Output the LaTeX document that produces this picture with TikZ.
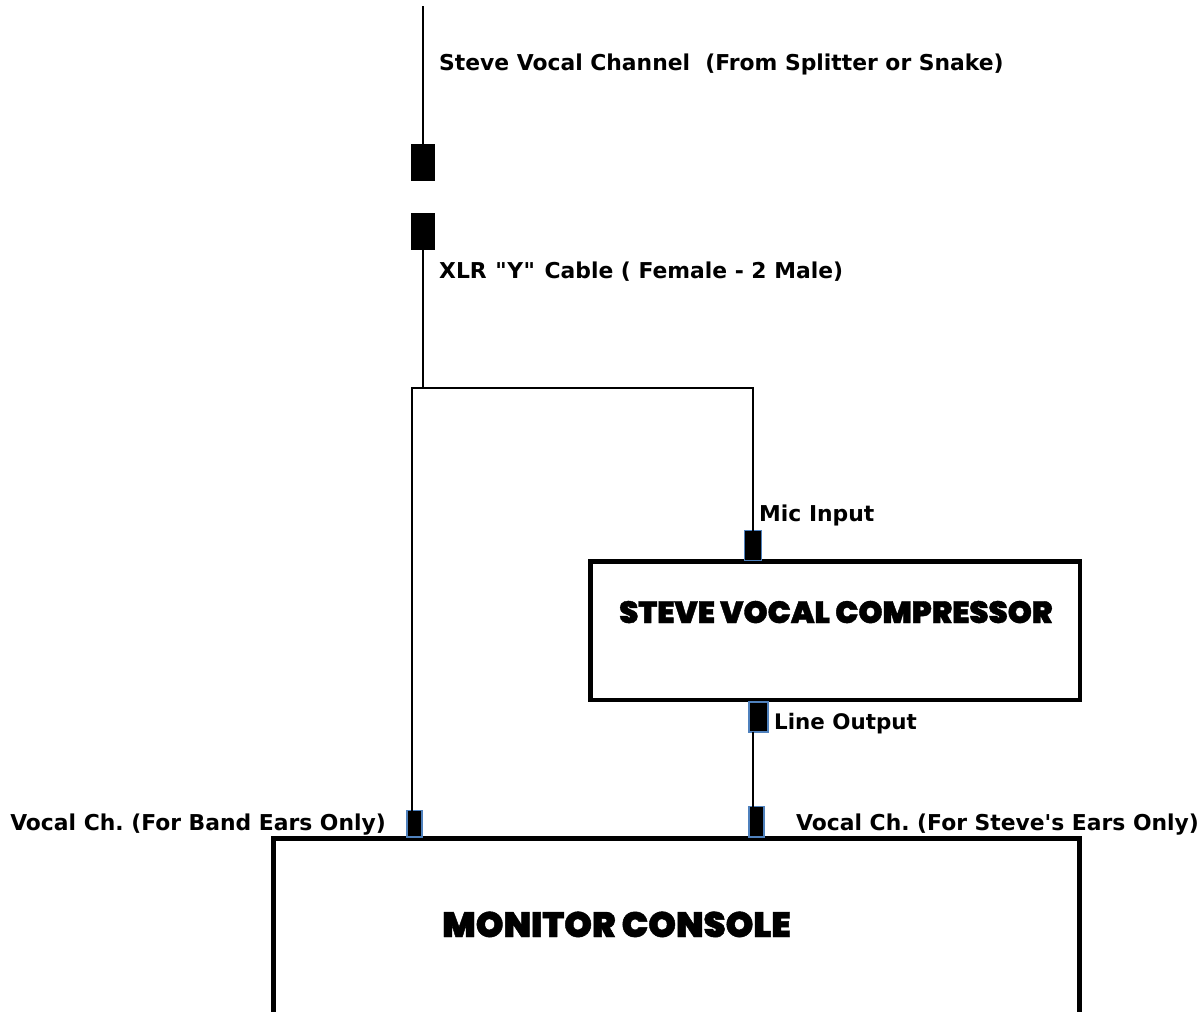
\documentclass[tikz,border=0pt]{standalone}
\usepackage{fontspec}
\setmainfont{DejaVu Sans}[Ligatures=TeXOff]
\newfontfamily\heavy{Poppins Black}[FakeBold=1.2]
\usetikzlibrary{calc,shadows}
\definecolor{connblue}{RGB}{79,129,189}
\frenchspacing
\tikzset{
  x=1pt,y=-1pt,
  wire/.style={draw=black,line width=2pt},
  plug/.style={draw=black,fill=black,inner sep=0pt,outer sep=0pt,line width=0.6pt},
  bluejack/.style={draw=connblue,fill=black,inner sep=0pt,outer sep=0pt,line width=1.8pt,
     general shadow={fill=black,opacity=0.22,shadow xshift=0.6pt,shadow yshift=-1.4pt}},
  unit/.style={draw=black,line width=4.8pt,fill=white,outer sep=0pt},
  lbl/.style={anchor=base west,inner sep=0pt,font=\fontsize{21.85}{22}\selectfont\bfseries},
  lble/.style={anchor=base east,inner sep=0pt,font=\fontsize{21.85}{22}\selectfont\bfseries},
  titleA/.style={anchor=base west,inner sep=0pt,font=\fontsize{30.7}{31}\selectfont\heavy},
  titleB/.style={anchor=base west,inner sep=0pt,font=\fontsize{35.3}{35}\selectfont\heavy}
}
\begin{document}
\begin{tikzpicture}
\useasboundingbox (0,0) rectangle (1203,1012);
\fill[white] (0,0) rectangle (1203,1012);
% units
\node[unit,rectangle,minimum width=489.7pt,minimum height=138.3pt,anchor=north west] (comp) at (590.3,561.7) {};
\draw[unit,fill=none] (273.5,1012) -- (273.5,838.5) -- (1079.5,838.5) -- (1079.5,1012);
% plugs
\node[plug,minimum width=23.4pt,minimum height=36.4pt,anchor=north west] (p1) at (411.3,144.3) {};
\node[plug,minimum width=23.4pt,minimum height=36.4pt,anchor=north west] (p2) at (411.3,213.3) {};
\node[bluejack,minimum width=17pt,minimum height=30pt,anchor=north west] (mic) at (744.5,530.5) {};
\node[bluejack,minimum width=19pt,minimum height=30pt,anchor=north west] (lineout) at (748.7,701.7) {};
\node[bluejack,minimum width=15.5pt,minimum height=26.5pt,anchor=north west] (band) at (406.8,810.5) {};
\node[bluejack,minimum width=15.5pt,minimum height=30.5pt,anchor=north west] (steve) at (748.7,806.5) {};
% wires
\coordinate (top) at (423,6);
\coordinate (junc) at (423,387.5);
\coordinate (jl) at (412,387.5);
\coordinate (jr) at (753,387.5);
\draw[wire] (top) -- (top |- p1.north);
\draw[wire] (top |- p2.south) -- (junc);
\draw[wire,line cap=rect] (band.north -| jl) -- (jl) -- (jr) -- (mic.north -| jr);
\draw[wire] (lineout.south -| jr) -- (steve.north -| jr);
% labels
\node[lbl] (t1) at (439,70) {Steve Vocal Channel\ \ (From Splitter or Snake)};
\node[lbl] (t2) at (439,278) {XLR \kern1pt"\kern0.5pt Y\kern0.5pt"\kern2pt{} Cable ( Female - 2 Male)};
\node[lbl] (t3) at (759,521) {Mic Input};
\node[lbl,font=\fontsize{21.4}{22}\selectfont\bfseries] (t4) at (774,729) {Line Output};
\node[lble] (t5) at (386,830) {Vocal Ch. (For Band Ears Only)};
\node[lbl] (t6) at (796,830) {Vocal Ch. (For Steve's Ears Only)};
\node[titleA] (t7) at (619,623) {STEVE VOCAL COMPRESSOR};
\node[titleB] (t8) at (442,937) {MONITOR CONSOLE};
\end{tikzpicture}
\end{document}
